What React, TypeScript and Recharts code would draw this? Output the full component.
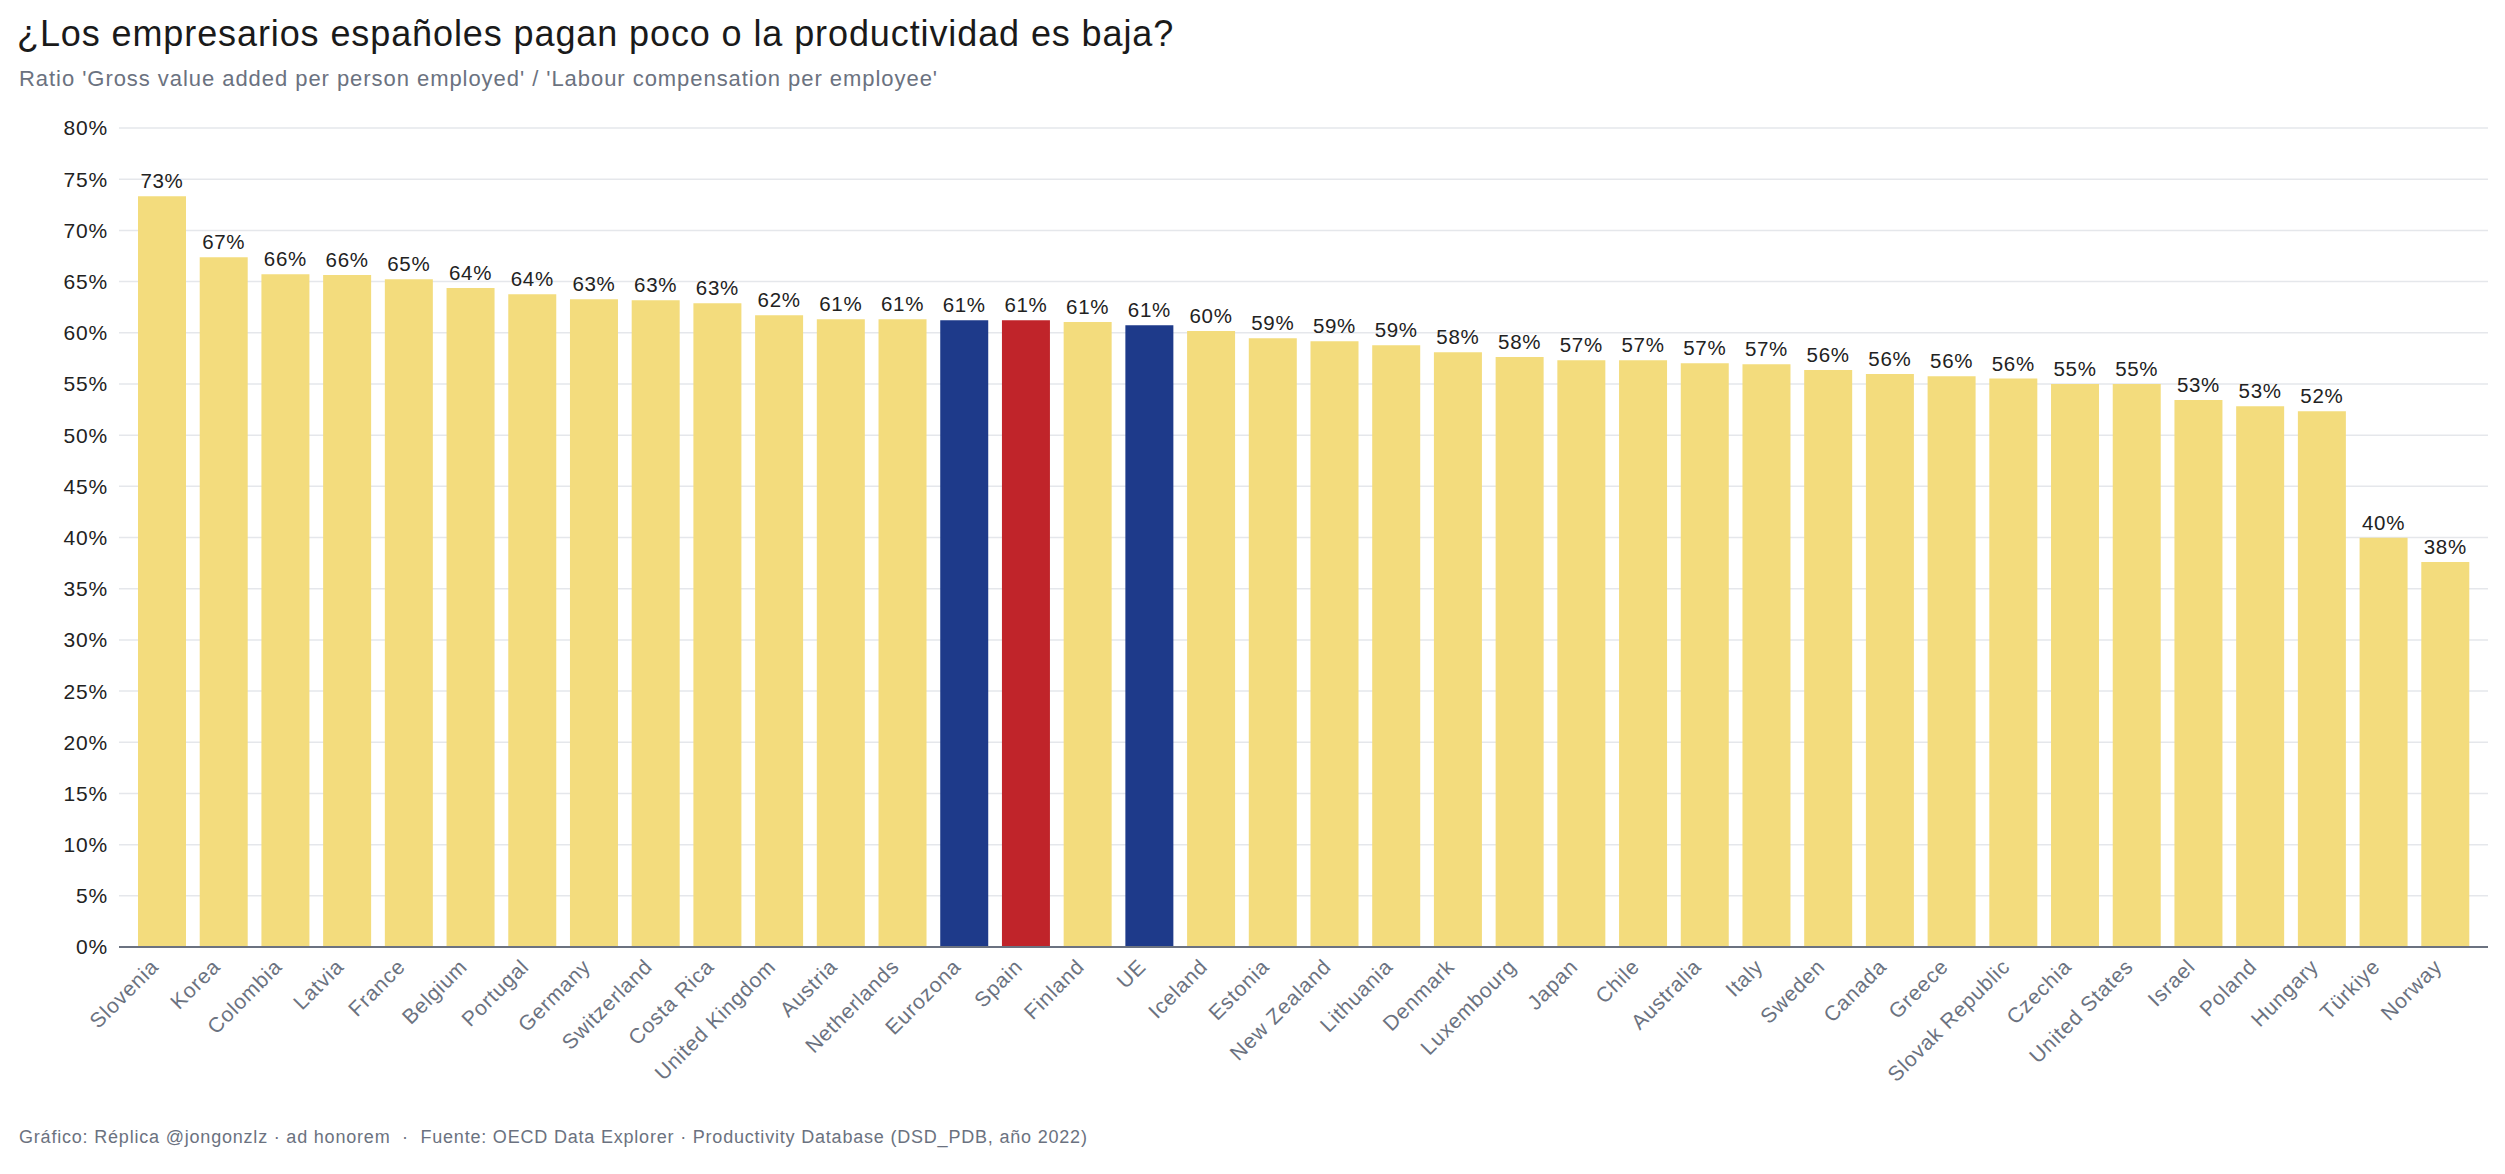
import React from 'react';
import { BarChart, Bar, XAxis, YAxis, CartesianGrid, Cell, LabelList } from 'recharts';

// Ratio GVA per person employed / labour compensation per employee, in percent (2022)
const countries = [
  'Slovenia', 'Korea', 'Colombia', 'Latvia', 'France', 'Belgium', 'Portugal', 'Germany',
  'Switzerland', 'Costa Rica', 'United Kingdom', 'Austria', 'Netherlands', 'Eurozona', 'Spain',
  'Finland', 'UE', 'Iceland', 'Estonia', 'New Zealand', 'Lithuania', 'Denmark', 'Luxembourg',
  'Japan', 'Chile', 'Australia', 'Italy', 'Sweden', 'Canada', 'Greece', 'Slovak Republic',
  'Czechia', 'United States', 'Israel', 'Poland', 'Hungary', 'Türkiye', 'Norway',
];

const ratio = [
  73.34, 67.38, 65.72, 65.63, 65.23, 64.36, 63.77, 63.28,
  63.18, 62.89, 61.72, 61.33, 61.33, 61.23, 61.23,
  61.04, 60.74, 60.16, 59.47, 59.18, 58.79, 58.1, 57.62,
  57.32, 57.32, 57.03, 56.93, 56.35, 55.96, 55.76, 55.52,
  55.0, 55.0, 53.42, 52.83, 52.34, 39.97, 37.6,
];

const aggregates = ['Eurozona', 'UE'];
const highlighted = ['Spain'];

const yTicks = [0, 5, 10, 15, 20, 25, 30, 35, 40, 45, 50, 55, 60, 65, 70, 75, 80];

const title = '¿Los empresarios españoles pagan poco o la productividad es baja?';
const subtitle = "Ratio 'Gross value added per person employed' / 'Labour compensation per employee'";
const footer = 'Gráfico: Réplica @jongonzlz · ad honorem  ·  Fuente: OECD Data Explorer · Productivity Database (DSD_PDB, año 2022)';

const data = countries.map((country, i) => ({ country, ratio: ratio[i] }));

const FONT = '"Liberation Sans", Arial, Helvetica, sans-serif';
const YELLOW = '#F3DC7D';
const BLUE = '#1E3A8A';
const RED = '#C0242A';

const barColor = (country: string) =>
  highlighted.includes(country) ? RED : aggregates.includes(country) ? BLUE : YELLOW;

const CountryTick = (props: any) => {
  const { x, y, payload } = props;
  const ax = x - 2;
  const ay = y + 21;
  return (
    <text
      x={ax}
      y={ay}
      transform={`rotate(-45 ${ax} ${ay})`}
      textAnchor="end"
      fontSize={21}
      fill="#6b7280"
      fontFamily={FONT}
      style={{ letterSpacing: '0.8px' }}
    >
      {payload.value}
    </text>
  );
};

const PercentTick = (props: any) => {
  const { x, y, payload } = props;
  return (
    <text
      x={x}
      y={y}
      dy="0.355em"
      textAnchor="end"
      fontSize={21}
      fill="#222222"
      fontFamily={FONT}
      style={{ letterSpacing: '0.8px' }}
    >
      {`${payload.value}%`}
    </text>
  );
};

const ValueLabel = (props: any) => {
  const { x, y, width, value } = props;
  return (
    <text
      x={Number(x) + Number(width) / 2}
      y={Number(y) - 8}
      textAnchor="middle"
      fontSize={20.5}
      fill="#222222"
      fontFamily={FONT}
      style={{ letterSpacing: '0.7px' }}
    >
      {`${Math.round(Number(value))}%`}
    </text>
  );
};

export default function App() {
  return (
    <div
      style={{
        position: 'absolute',
        left: 0,
        top: 0,
        width: 2505,
        height: 1174,
        background: '#ffffff',
        fontFamily: FONT,
        overflow: 'hidden',
      }}
    >
      <div
        style={{
          position: 'absolute',
          left: 17,
          top: 16,
          fontSize: 36,
          lineHeight: '36px',
          letterSpacing: '0.9px',
          color: '#1a1a1a',
          whiteSpace: 'nowrap',
        }}
      >
        {title}
      </div>
      <div
        style={{
          position: 'absolute',
          left: 19,
          top: 68,
          fontSize: 22,
          lineHeight: '22px',
          letterSpacing: '0.95px',
          color: '#6b7280',
          whiteSpace: 'nowrap',
        }}
      >
        {subtitle}
      </div>

      <div style={{ position: 'absolute', left: 0, top: 0 }}>
        <BarChart
          width={2505}
          height={1174}
          data={data}
          margin={{ top: 128, right: 17, bottom: 27, left: 19 }}
        >
          <CartesianGrid vertical={false} stroke="#e5e7eb" strokeWidth={1.5} />
          <XAxis
            dataKey="country"
            interval={0}
            height={200}
            tickLine={false}
            tickSize={0}
            tickMargin={0}
            axisLine={{ stroke: '#6b7280', strokeWidth: 2 }}
            padding={{ left: 12, right: 12 }}
            tick={<CountryTick />}
          />
          <YAxis
            domain={[0, 80]}
            ticks={yTicks}
            interval={0}
            width={100}
            axisLine={false}
            tickLine={false}
            tickSize={0}
            tickMargin={11}
            tick={<PercentTick />}
          />
          <Bar dataKey="ratio" barSize={48} isAnimationActive={false}>
            {data.map((d) => (
              <Cell key={d.country} fill={barColor(d.country)} />
            ))}
            <LabelList dataKey="ratio" content={<ValueLabel />} />
          </Bar>
        </BarChart>
      </div>

      <div
        style={{
          position: 'absolute',
          left: 19,
          top: 1128,
          fontSize: 18,
          lineHeight: '18px',
          letterSpacing: '0.8px',
          color: '#6b7280',
          whiteSpace: 'pre',
        }}
      >
        {footer}
      </div>
    </div>
  );
}
